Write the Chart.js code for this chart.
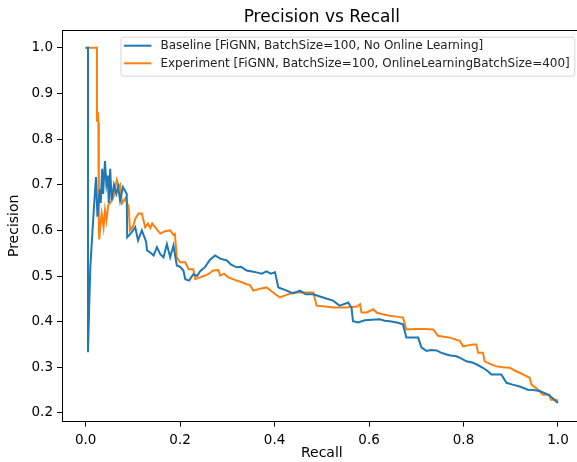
<!DOCTYPE html>
<html>
<head>
<meta charset="utf-8">
<script src="https://cdn.jsdelivr.net/npm/chart.js@4.4.1/dist/chart.umd.min.js"></script>
<style>
    html, body { margin: 0; padding: 0; background: #fff; overflow: hidden; }
    #wrap { position: absolute; left: 0; top: 0; width: 592px; height: 462px; }
</style>
</head>
<body>
<div id="wrap"><canvas id="pr_chart" width="592" height="462"></canvas></div>
<script>
var chartTitle = "Precision vs Recall";
var seriesNames = ["Baseline [FiGNN, BatchSize=100, No Online Learning]",
                   "Experiment [FiGNN, BatchSize=100, OnlineLearningBatchSize=400]"];
var xTicks = [0.0, 0.2, 0.4, 0.6, 0.8, 1.0];
var yTicks = [0.2, 0.3, 0.4, 0.5, 0.6, 0.7, 0.8, 0.9, 1.0];

var baseRecall = [0.000, 0.005, 0.005, 0.008, 0.010, 0.014, 0.017, 0.022, 0.025, 0.030, 0.032, 0.035, 0.037, 0.041, 0.044, 0.047, 0.049, 0.052, 0.055, 0.060,
    0.065, 0.069, 0.073, 0.079, 0.087, 0.088, 0.097, 0.105, 0.111, 0.119, 0.128, 0.130, 0.139, 0.144, 0.151, 0.158, 0.165, 0.172, 0.179, 0.186,
    0.193, 0.200, 0.207, 0.211, 0.219, 0.228, 0.236, 0.242, 0.253, 0.263, 0.274, 0.285, 0.299, 0.308, 0.320, 0.329, 0.341, 0.352, 0.362, 0.373,
    0.383, 0.392, 0.401, 0.408, 0.426, 0.439, 0.454, 0.466, 0.482, 0.496, 0.511, 0.524, 0.538, 0.556, 0.563, 0.566, 0.577, 0.591, 0.606, 0.623,
    0.633, 0.644, 0.659, 0.672, 0.679, 0.690, 0.704, 0.711, 0.722, 0.731, 0.743, 0.752, 0.764, 0.773, 0.785, 0.794, 0.806, 0.820, 0.830, 0.841,
    0.851, 0.859, 0.880, 0.891, 0.904, 0.919, 0.936, 0.948, 0.961, 0.979, 0.989, 0.996, 1.000];
var basePrecision = [1.000, 1.000, 0.333, 0.450, 0.520, 0.590, 0.640, 0.717, 0.630, 0.690, 0.660, 0.735, 0.680, 0.752, 0.700, 0.720, 0.660, 0.735, 0.666, 0.700,
    0.680, 0.695, 0.665, 0.695, 0.680, 0.585, 0.595, 0.607, 0.578, 0.600, 0.575, 0.556, 0.550, 0.545, 0.563, 0.548, 0.541, 0.570, 0.541, 0.567,
    0.523, 0.520, 0.512, 0.493, 0.490, 0.504, 0.500, 0.510, 0.520, 0.535, 0.545, 0.538, 0.534, 0.525, 0.519, 0.520, 0.512, 0.510, 0.508, 0.505,
    0.510, 0.505, 0.508, 0.475, 0.468, 0.462, 0.468, 0.460, 0.460, 0.455, 0.450, 0.446, 0.435, 0.442, 0.430, 0.401, 0.398, 0.403, 0.404, 0.405,
    0.402, 0.401, 0.398, 0.394, 0.365, 0.365, 0.365, 0.343, 0.336, 0.338, 0.337, 0.332, 0.328, 0.326, 0.324, 0.320, 0.313, 0.310, 0.305, 0.299,
    0.292, 0.284, 0.284, 0.266, 0.262, 0.258, 0.251, 0.250, 0.248, 0.240, 0.232, 0.225, 0.222];

var expRecall = [0.000, 0.024, 0.024, 0.026, 0.027, 0.028, 0.029, 0.031, 0.034, 0.038, 0.041, 0.044, 0.048, 0.056, 0.059, 0.066, 0.070, 0.073, 0.077, 0.084,
    0.091, 0.094, 0.101, 0.105, 0.112, 0.119, 0.126, 0.132, 0.137, 0.141, 0.147, 0.158, 0.168, 0.179, 0.186, 0.189, 0.193, 0.200, 0.211, 0.218,
    0.228, 0.232, 0.242, 0.253, 0.261, 0.270, 0.281, 0.285, 0.293, 0.302, 0.320, 0.329, 0.341, 0.348, 0.355, 0.369, 0.383, 0.397, 0.411, 0.424,
    0.440, 0.461, 0.482, 0.489, 0.507, 0.524, 0.552, 0.574, 0.581, 0.584, 0.595, 0.609, 0.616, 0.629, 0.644, 0.659, 0.672, 0.679, 0.700, 0.718,
    0.736, 0.746, 0.758, 0.771, 0.792, 0.799, 0.809, 0.820, 0.827, 0.831, 0.841, 0.845, 0.855, 0.870, 0.883, 0.898, 0.908, 0.919, 0.929, 0.940,
    0.944, 0.953, 0.961, 0.968, 0.982, 0.985, 0.996, 1.000];
var expPrecision = [1.000, 1.000, 0.838, 0.860, 0.835, 0.600, 0.580, 0.607, 0.637, 0.607, 0.644, 0.622, 0.655, 0.666, 0.673, 0.710, 0.695, 0.700, 0.659, 0.670,
    0.651, 0.600, 0.610, 0.625, 0.637, 0.637, 0.607, 0.615, 0.605, 0.615, 0.607, 0.593, 0.598, 0.600, 0.590, 0.592, 0.541, 0.530, 0.530, 0.515,
    0.515, 0.493, 0.497, 0.501, 0.505, 0.512, 0.513, 0.501, 0.505, 0.497, 0.490, 0.487, 0.482, 0.480, 0.468, 0.472, 0.475, 0.464, 0.453, 0.458,
    0.464, 0.464, 0.464, 0.435, 0.433, 0.431, 0.431, 0.433, 0.438, 0.420, 0.420, 0.427, 0.420, 0.416, 0.413, 0.411, 0.409, 0.383, 0.384, 0.384,
    0.383, 0.369, 0.367, 0.365, 0.358, 0.346, 0.348, 0.350, 0.350, 0.332, 0.332, 0.313, 0.308, 0.302, 0.300, 0.299, 0.293, 0.288, 0.283, 0.277,
    0.262, 0.255, 0.248, 0.240, 0.240, 0.229, 0.229, 0.225];

var FONT = "'DejaVu Sans', sans-serif";

function toPoints(xs, ys) {
    var pts = [];
    for (var i = 0; i < xs.length; i++) pts.push({ x: xs[i], y: ys[i] });
    return pts;
}

// title, top/right spines and a matplotlib style legend box
var mplExtras = {
    id: 'mplExtras',
    afterDatasetsDraw: function (chart) {
        var ctx = chart.ctx, ca = chart.chartArea;
        ctx.save();
        ctx.strokeStyle = '#000';
        ctx.lineWidth = 1;
        ctx.beginPath();
        ctx.moveTo(ca.left, ca.top + 0.5);
        ctx.lineTo(ca.right, ca.top + 0.5);
        ctx.lineTo(ca.right - 0.5, ca.bottom);
        ctx.stroke();
        ctx.restore();
    },
    afterDraw: function (chart) {
        var ctx = chart.ctx, ca = chart.chartArea;
        ctx.save();
        ctx.fillStyle = '#000';
        ctx.font = '17px ' + FONT;
        ctx.textAlign = 'center';
        ctx.textBaseline = 'alphabetic';
        ctx.fillText(chartTitle, (ca.left + ca.right) / 2, 21.7);

        ctx.font = '12px ' + FONT;
        var w = 0;
        chart.data.datasets.forEach(function (ds) { w = Math.max(w, ctx.measureText(ds.label).width); });
        var boxW = 3.4 + 27.6 + 9 + w + 4.5, boxH = 39;
        var bx = ca.right - 7.3 - boxW, by = ca.top + 6.7;
        ctx.beginPath();
        ctx.roundRect(bx + 0.5, by + 0.5, boxW, boxH, 2.5);
        ctx.fillStyle = 'rgba(255,255,255,0.8)';
        ctx.fill();
        ctx.strokeStyle = 'rgba(204,204,204,0.8)';
        ctx.lineWidth = 1;
        ctx.stroke();
        ctx.textAlign = 'left';
        ctx.textBaseline = 'middle';
        chart.data.datasets.forEach(function (ds, i) {
            var ly = by + 9 + i * 17.6;
            ctx.strokeStyle = ds.borderColor;
            ctx.lineWidth = 2;
            ctx.beginPath();
            ctx.moveTo(bx + 3.4, ly);
            ctx.lineTo(bx + 31, ly);
            ctx.stroke();
            ctx.fillStyle = '#222';
            ctx.fillText(ds.label, bx + 40, ly + 0.5);
        });
        ctx.restore();
    }
};

function axisOpts(min, max, step, title, pad, titlePad, fit) {
    return {
        type: 'linear',
        min: min,
        max: max,
        ticks: {
            stepSize: step,
            includeBounds: false,
            color: '#000',
            padding: pad,
            font: { family: FONT, size: 13.5 },
            callback: function (v) { return v.toFixed(1); }
        },
        grid: { drawOnChartArea: false, drawTicks: true, tickLength: 5, tickColor: '#000', tickWidth: 1 },
        border: { display: true, color: '#000', width: 1 },
        title: { display: true, text: title, color: '#000', font: { family: FONT, size: 14 }, padding: titlePad },
        afterFit: fit
    };
}

new Chart(document.getElementById('pr_chart').getContext('2d'), {
    type: 'line',
    data: {
        datasets: [{
            label: seriesNames[0],
            data: toPoints(baseRecall, basePrecision),
            borderColor: '#1f77b4',
            borderWidth: 2,
            pointRadius: 0,
            tension: 0,
            fill: false
        }, {
            label: seriesNames[1],
            data: toPoints(expRecall, expPrecision),
            borderColor: '#ff7f0e',
            borderWidth: 2,
            pointRadius: 0,
            tension: 0,
            fill: false
        }]
    },
    options: {
        responsive: false,
        animation: false,
        devicePixelRatio: 1,
        layout: { padding: { top: 30, right: 10.4, bottom: 0, left: 0 } },
        plugins: { legend: { display: false }, title: { display: false }, tooltip: { enabled: false } },
        scales: {
            x: axisOpts(-0.05, 1.05, 0.2, 'Recall', 6, { top: 4, bottom: 0 }, function (s) { s.height = 40.4; }),
            y: axisOpts(0.181, 1.039, 0.1, 'Precision', 4, { top: 6, bottom: 3 }, function (s) { s.width = 62; })
        }
    },
    plugins: [mplExtras]
});
</script>
</body>
</html>
